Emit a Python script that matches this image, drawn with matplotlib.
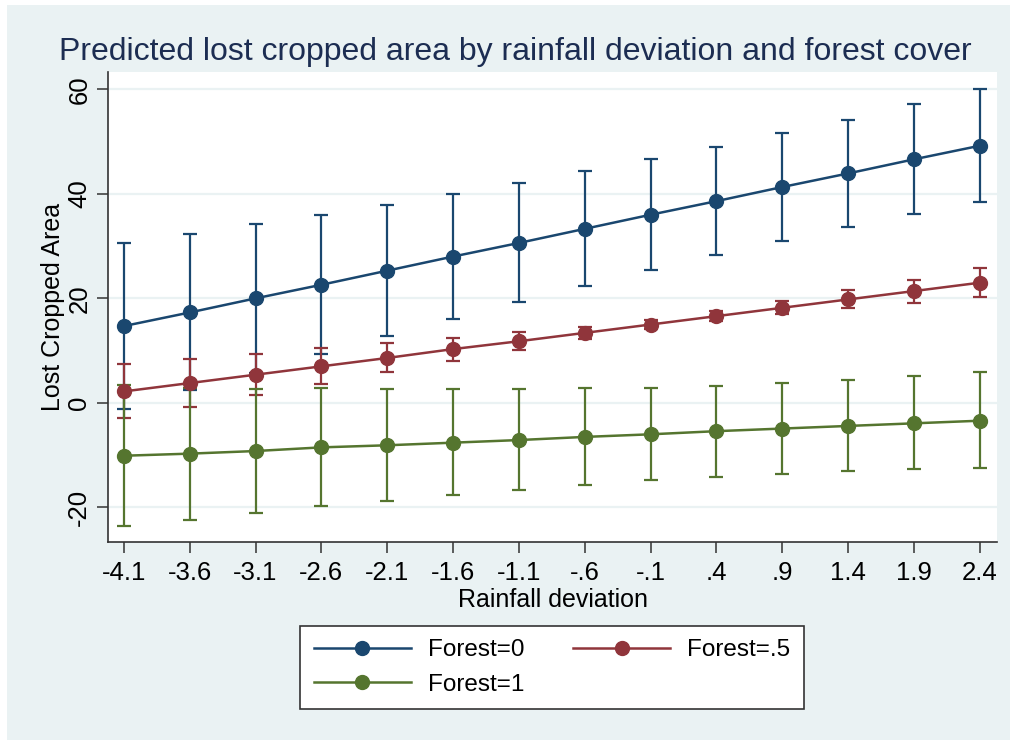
import matplotlib
matplotlib.use("Agg")
import matplotlib.pyplot as plt
from matplotlib.patches import Rectangle
import numpy as np

plt.rcParams['font.family'] = ['Liberation Sans', 'DejaVu Sans']

# rainfall deviation values (x axis)
rain = [-4.1, -3.6, -3.1, -2.6, -2.1, -1.6, -1.1, -0.6, -0.1, 0.4, 0.9, 1.4, 1.9, 2.4]
rain_labels = ["-4.1", "-3.6", "-3.1", "-2.6", "-2.1", "-1.6", "-1.1",
               "-.6", "-.1", ".4", ".9", "1.4", "1.9", "2.4"]

# Forest=0
f0_mid = [14.7, 17.3, 20.0, 22.6, 25.3, 28.0, 30.6, 33.3, 36.0, 38.6, 41.3, 43.9, 46.6, 49.2]
f0_lo = [-1.1, 2.4, 5.8, 9.3, 12.8, 16.1, 19.3, 22.4, 25.4, 28.3, 31.0, 33.7, 36.1, 38.4]
f0_hi = [30.6, 32.4, 34.2, 36.0, 37.9, 39.9, 42.0, 44.3, 46.6, 49.0, 51.6, 54.2, 57.1, 60.0]

# Forest=.5
f5_mid = [2.2, 3.8, 5.4, 7.0, 8.6, 10.3, 11.8, 13.4, 15.0, 16.6, 18.2, 19.8, 21.4, 23.0]
f5_lo = [-2.9, -0.8, 1.5, 3.7, 5.9, 8.0, 10.1, 12.3, 14.2, 15.7, 17.0, 18.1, 19.1, 20.2]
f5_hi = [7.5, 8.4, 9.4, 10.6, 11.5, 12.5, 13.6, 14.5, 15.8, 17.5, 19.5, 21.6, 23.6, 25.8]

# Forest=1
f1_mid = [-10.1, -9.7, -9.2, -8.5, -8.1, -7.6, -7.1, -6.5, -6.0, -5.4, -4.9, -4.4, -3.9, -3.4]
f1_lo = [-23.6, -22.3, -21.0, -19.8, -18.7, -17.6, -16.6, -15.7, -14.8, -14.1, -13.6, -13.1, -12.7, -12.5]
f1_hi = [3.4, 2.9, 2.7, 2.8, 2.6, 2.6, 2.6, 2.8, 2.9, 3.3, 3.8, 4.3, 5.1, 5.9]

bg = "#eaf2f3"
navy = "#1a476f"
maroon = "#90353b"
green = "#55752f"

fig = plt.figure(figsize=(10.1, 7.4), dpi=100, facecolor="white")
fig.patches.append(Rectangle((7 / 1010, 0), 1, 735 / 740, transform=fig.transFigure,
                             facecolor=bg, edgecolor="none", zorder=-10))

ax = fig.add_axes([108 / 1010, 1 - 542 / 740, 889 / 1010, 470 / 740])
ax.set_facecolor("white")

series = [
    ("Forest=0", f0_mid, f0_lo, f0_hi, navy),
    ("Forest=.5", f5_mid, f5_lo, f5_hi, maroon),
    ("Forest=1", f1_mid, f1_lo, f1_hi, green),
]
handles = {}
for name, mid, lo, hi, col in series:
    mid = np.array(mid)
    yerr = [mid - np.array(lo), np.array(hi) - mid]
    ax.errorbar(rain, mid, yerr=yerr, fmt="none", ecolor=col, elinewidth=1.6,
                capsize=5, capthick=1.6, zorder=2)
    h, = ax.plot(rain, mid, color=col, lw=1.8, marker="o", markersize=10,
                 markeredgecolor=col, zorder=3)
    handles[name] = h

ax.set_xlim(-4.22, 2.53)
ax.set_ylim(-26.6, 63.3)
ax.set_xticks(rain)
ax.set_xticklabels(rain_labels)
ax.set_yticks([-20, 0, 20, 40, 60])
ax.set_yticklabels(["-20", "0", "20", "40", "60"], rotation=90, va="center")
ax.grid(axis="y", color=bg, lw=1.6, zorder=0)
ax.set_axisbelow(True)
for s in ["top", "right"]:
    ax.spines[s].set_visible(False)
for s in ["left", "bottom"]:
    ax.spines[s].set_color("#333333")
    ax.spines[s].set_linewidth(1.2)
ax.tick_params(axis="both", direction="out", length=8, width=1.1, color="#333333",
               labelsize=18.5, labelcolor="black")
ax.tick_params(axis="y", pad=4)
ax.tick_params(axis="x", pad=6)

ax.set_xlabel("Rainfall deviation", fontsize=18, labelpad=2)
ax.set_ylabel("Lost Cropped Area", fontsize=18, labelpad=2)

fig.text(515 / 1010, 1 - 52 / 740, "Predicted lost cropped area by rainfall deviation and forest cover",
         ha="center", va="center", fontsize=23, color="#1c2d52")

order = ["Forest=0", "Forest=1", "Forest=.5"]
leg = fig.legend([handles[k] for k in order], order, loc="center",
                 bbox_to_anchor=(552 / 1010, 1 - 667.5 / 740), ncol=2,
                 fontsize=17.5, frameon=True, fancybox=False, handlelength=4.0,
                 handletextpad=0.7, columnspacing=2.0, labelspacing=0.5,
                 borderpad=0.55)
leg.get_frame().set_edgecolor("#333333")
leg.get_frame().set_linewidth(1.2)
leg.get_frame().set_facecolor("white")
leg.get_frame().set_alpha(1)

fig.savefig("out.png", dpi=100, facecolor=fig.get_facecolor())
